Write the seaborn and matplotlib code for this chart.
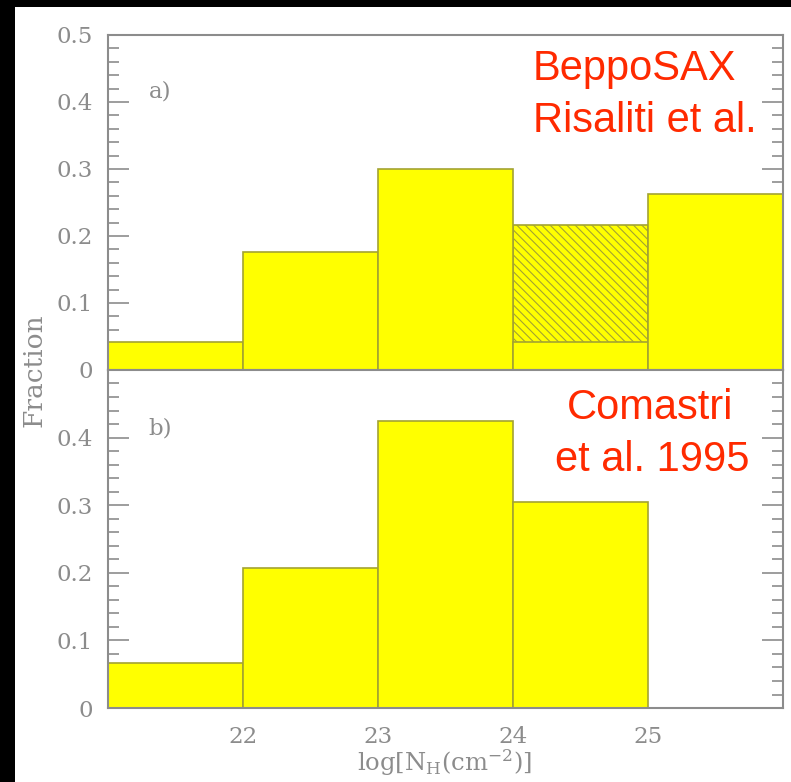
import numpy as np
import pandas as pd
import matplotlib
matplotlib.use("Agg")
import matplotlib.pyplot as plt
from matplotlib.patches import Rectangle
import seaborn as sns

# histogram data
bin_edges = [21, 22, 23, 24, 25, 26]
bin_mid = [21.5, 22.5, 23.5, 24.5, 25.5]
frac_a = [0.042, 0.176, 0.300, 0.042, 0.263]   # solid part, panel a
frac_a_upper = [0.0, 0.0, 0.0, 0.217, 0.0]     # hatched upper limit, panel a
frac_b = [0.066, 0.207, 0.425, 0.304, 0.0]      # panel b
xticks = [22, 23, 24, 25]

yellow = "#ffff00"
olive = "#a3a332"
grey = "#8c8c8c"

sns.set_style("ticks")
plt.rcParams["font.family"] = ["DejaVu Serif"]
plt.rcParams["mathtext.fontset"] = "dejavuserif"
plt.rcParams["hatch.color"] = olive
plt.rcParams["hatch.linewidth"] = 0.8

fig = plt.figure(figsize=(7.91, 7.82), dpi=100)
fig.patch.set_facecolor("black")
fig.patches.append(Rectangle((15 / 791, 0), 1, 1 - 7 / 782, transform=fig.transFigure,
                             facecolor="white", edgecolor="none", zorder=-10))

ax_a = fig.add_axes([0.1365, 0.5269, 0.8534, 0.4284])
ax_b = fig.add_axes([0.1365, 0.0946, 0.8534, 0.4323])

df_a = pd.DataFrame({"x": bin_mid, "solid": frac_a, "upper": frac_a_upper})
df_b = pd.DataFrame({"x": bin_mid, "frac": frac_b})

sns.histplot(data=df_a, x="x", weights="upper", bins=bin_edges, ax=ax_a,
             color=yellow, edgecolor=olive, alpha=1, linewidth=1.2, hatch="\\\\\\\\")
sns.histplot(data=df_a, x="x", weights="solid", bins=bin_edges, ax=ax_a,
             color=yellow, edgecolor=olive, alpha=1, linewidth=1.2)
sns.histplot(data=df_b, x="x", weights="frac", bins=bin_edges, ax=ax_b,
             color=yellow, edgecolor=olive, alpha=1, linewidth=1.2)

for ax in (ax_a, ax_b):
    ax.set_xlim(21, 26)
    ax.set_ylim(0, 0.5)
    ax.set_xlabel("")
    ax.set_ylabel("")
    ax.set_xticks(xticks)
    ax.set_yticks(np.arange(0, 0.51, 0.1))
    ax.set_yticks(np.arange(0, 0.5, 0.02), minor=True)
    ax.tick_params(axis="y", which="both", direction="in", left=True, right=True,
                   color=grey, labelcolor=grey, labelsize=16.5, pad=11)
    ax.tick_params(axis="y", which="major", length=15, width=1.2)
    ax.tick_params(axis="y", which="minor", length=8, width=1.2)
    ax.tick_params(axis="x", which="both", length=0, labelcolor=grey, labelsize=16.5, pad=13)
    for s in ax.spines.values():
        s.set_visible(True)
        s.set_color(grey)
        s.set_linewidth(1.5)

ax_a.set_xticklabels([])
ax_b.set_yticklabels(["0", "0.1", "0.2", "0.3", "0.4", ""])
ax_a.set_yticklabels(["0", "0.1", "0.2", "0.3", "0.4", "0.5"])

ax_a.text(21.30, 0.415, "a)", color=grey, fontsize=16.5, va="center")
ax_b.text(21.30, 0.413, "b)", color=grey, fontsize=16.5, va="center")

red = "#ff2a00"
fig.text(533 / 791, 1 - 69 / 782, "BeppoSAX", color=red, fontsize=30,
         family="Liberation Sans", va="center", ha="left")
fig.text(533 / 791, 1 - 121 / 782, "Risaliti et al.", color=red, fontsize=30,
         family="Liberation Sans", va="center", ha="left")
fig.text(650 / 791, 1 - 408 / 782, "Comastri", color=red, fontsize=30,
         family="Liberation Sans", va="center", ha="center")
fig.text(652 / 791, 1 - 460 / 782, "et al. 1995", color=red, fontsize=30,
         family="Liberation Sans", va="center", ha="center")

fig.text(34 / 791, 1 - 370 / 782, "Fraction", rotation=90, color=grey, fontsize=19,
         va="center", ha="center")
fig.text(445 / 791, 1 - 763 / 782, r"$\mathrm{log[N_H(cm^{-2})]}$", color=grey,
         fontsize=17.5, va="center", ha="center")

fig.savefig("out.png", dpi=100, facecolor=fig.get_facecolor())
